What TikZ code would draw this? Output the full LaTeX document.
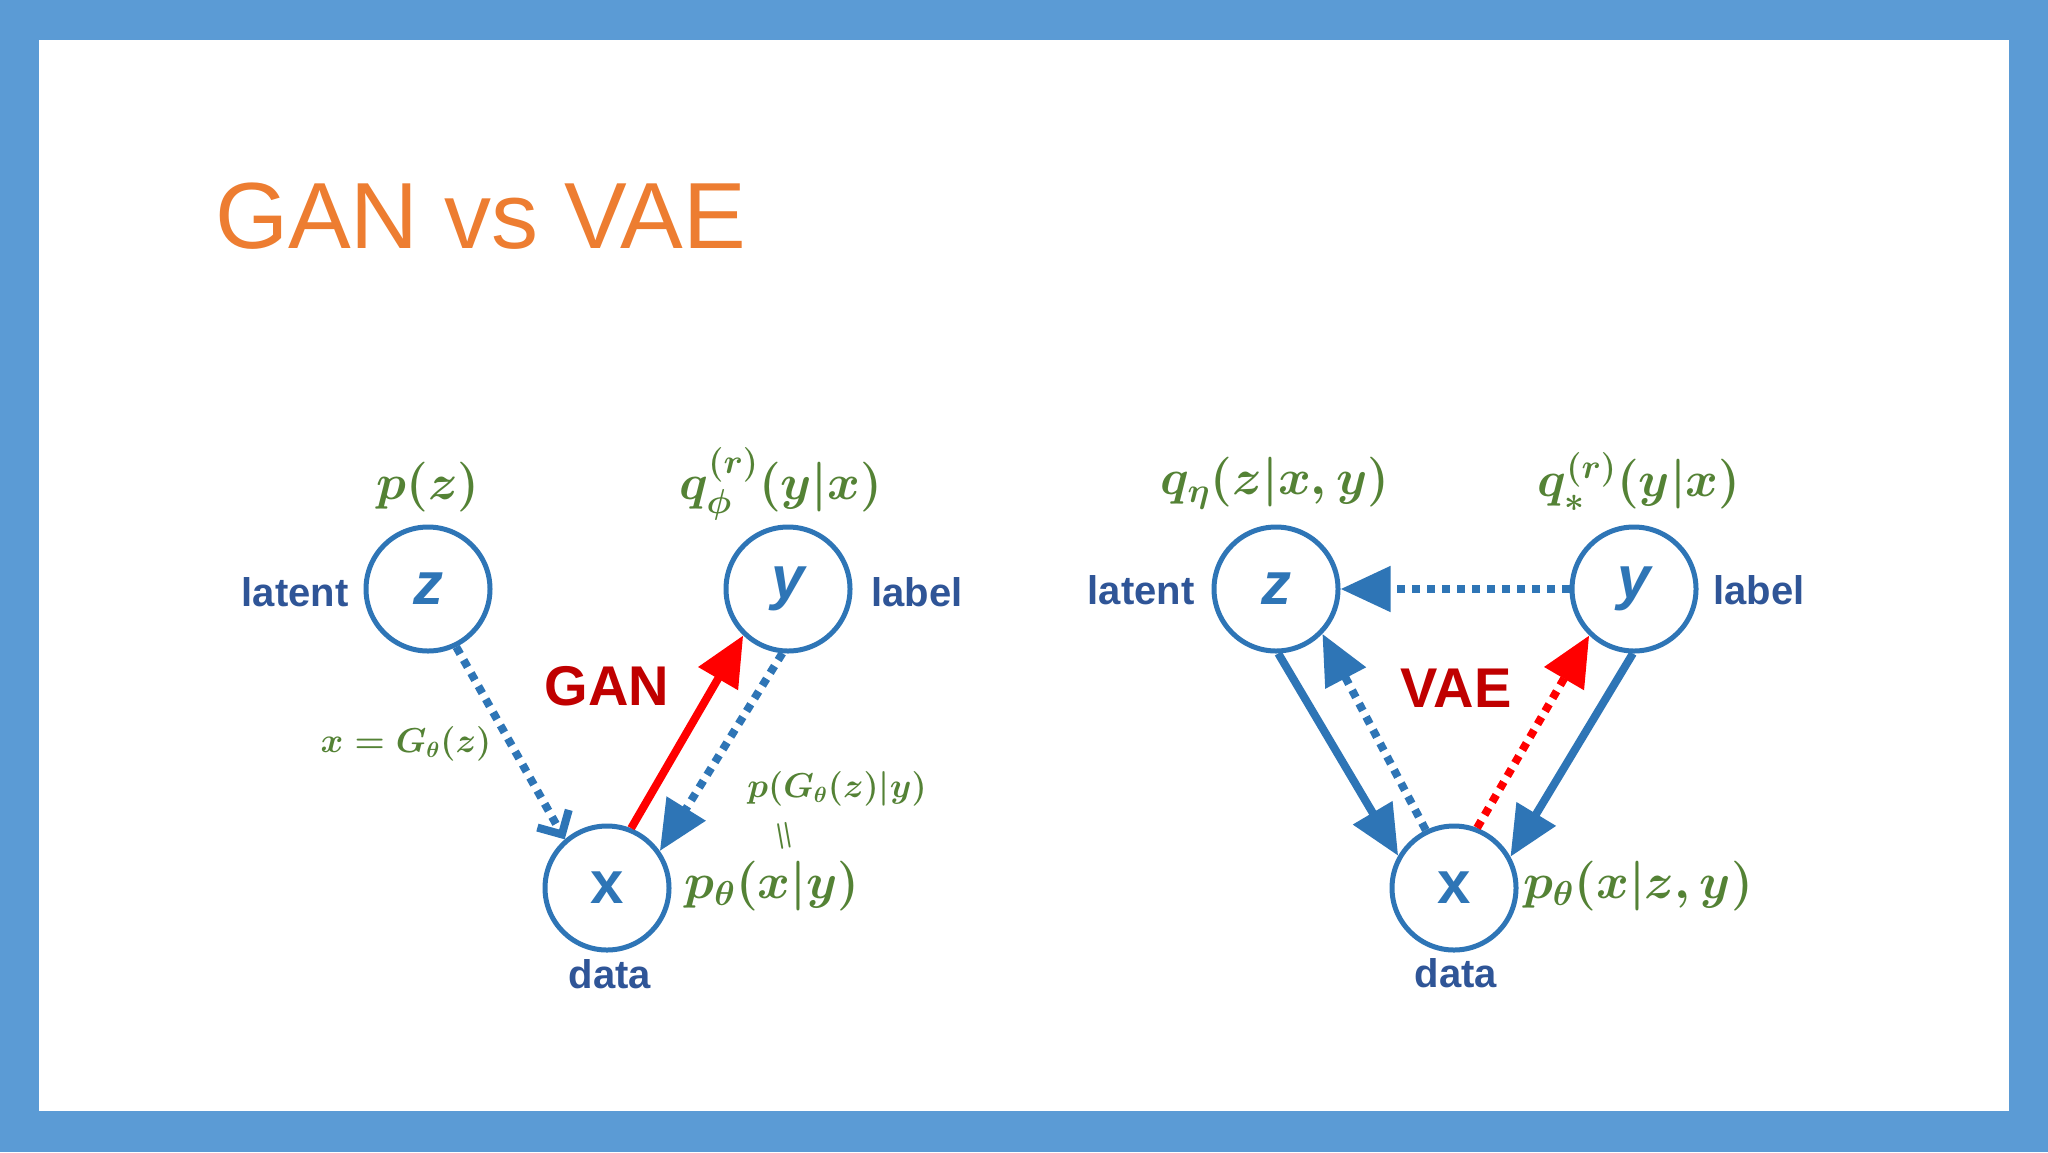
\documentclass[tikz,border=0pt]{standalone}
\usepackage{amsmath,bm}
\usepackage{fontspec}
\setmainfont{Liberation Sans}
\usetikzlibrary{arrows.meta,calc}
\definecolor{frame}{HTML}{5B9BD5}
\definecolor{mblue}{HTML}{2E75B6}
\definecolor{dblue}{HTML}{2F5597}
\definecolor{mgreen}{HTML}{548235}
\definecolor{morange}{HTML}{ED7D31}
\definecolor{dred}{HTML}{C00000}
\definecolor{bred}{HTML}{FF0000}
\begin{document}
\begin{tikzpicture}[x=0.5pt,y=-0.5pt,
  nd/.style={circle,draw=mblue,line width=2.5pt,minimum size=62pt,inner sep=0pt,text=mblue,font=\fontsize{30}{30}\bfseries},
  lab/.style={text=dblue,font=\fontsize{20}{20}\bfseries},
  gm/.style={text=mgreen,font=\fontsize{24}{24}\boldmath},
  gs/.style={text=mgreen,font=\fontsize{16}{16}\boldmath},
  tt/.style={text=dred,font=\fontsize{28}{28}\bfseries},
  sol/.style={line width=4pt},
  dot/.style={line width=4pt,dash pattern=on 4pt off 3.5pt},
  tri/.style={-{Triangle[length=25pt,width=22pt]}},
]
\fill[frame] (0,0) rectangle (2048,1152);
\fill[white] (39,40) rectangle (2009,1111);
\node[anchor=base west,text=morange,font=\fontsize{47}{47}\selectfont] (title) at (208,248) {GAN vs VAE};

% left
\node[nd] (z) at (428,589) {\itshape z};
\node[nd] (y) at (788,589) {\itshape y};
\node[nd] (x) at (607,888) {x};
\node[lab] (lz) at (295,592) {latent};
\node[lab] (ly) at (917,592) {label};
\node[lab] (lx) at (610,974) {data};
\node[gm] (pz) at (428,487) {$p(z)$};
\node[gm] (qy) at (781,484) {$q_{\phi}^{(r)}(y|x)$};
\node[gm] (px) at (772,886) {$p_{\theta}(x|y)$};
\node[gs] (g) at (406,744) {$x=G_{\theta}(z)$};
\node[gs] (pg) at (837,789) {$p(G_{\theta}(z)|y)$};
\node[gs,rotate=-80] (eq) at (782,836) {$=$};
\node[tt] (gan) at (607,686) {GAN};
\draw[mblue,dot,-{Straight Barb[length=9pt,width=18pt,line width=4pt]}] (z.-64) -- (x.131);
\draw[bred,sol,tri] (x.68) -- (y.-134);
\draw[mblue,dot,tri] (y.-95) -- (x.35);

% right
\node[nd] (z2) at (1276,589) {\itshape z};
\node[nd] (y2) at (1634,589) {\itshape y};
\node[nd] (x2) at (1454,888) {x};
\node[lab] (lz2) at (1141,590) {latent};
\node[lab] (ly2) at (1759,590) {label};
\node[lab] (lx2) at (1456,973) {data};
\node[gm] (qz2) at (1275,483) {$q_{\eta}(z|x,y)$};
\node[gm] (qy2) at (1639,482) {$q_{*}^{(r)}(y|x)$};
\node[gm] (px2) at (1638,886) {$p_{\theta}(x|z,y)$};
\node[tt] (vae) at (1456,688) {VAE};
\draw[mblue,sol,tri] (z2.-88) -- (x2.150);
\draw[mblue,dot,tri] (x2.116) -- (z2.-44);
\draw[bred,dot,tri] (x2.69) -- (y2.-134);
\draw[mblue,sol,tri] (y2.-91) -- (x2.29);
\draw[mblue,dot,tri] (y2.180) -- (z2.0);
\end{tikzpicture}
\end{document}
